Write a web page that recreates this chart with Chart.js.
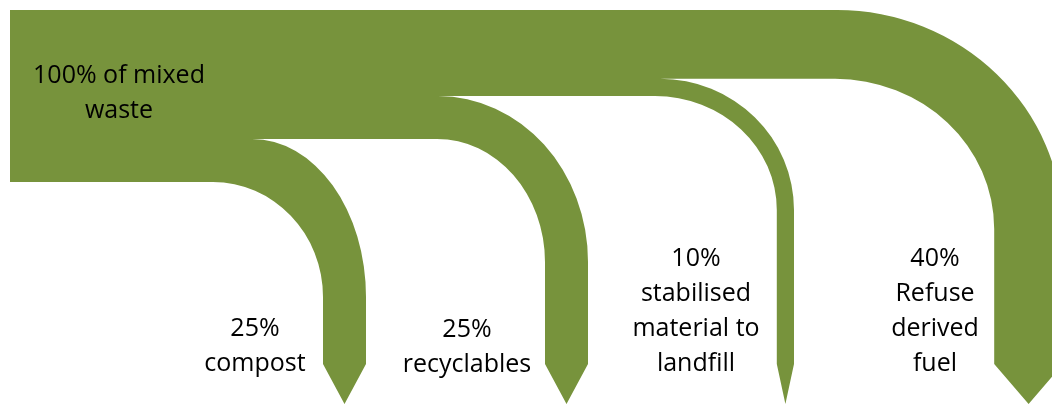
<!DOCTYPE html>
<html>
<head>
<meta charset="utf-8">
<script src="https://cdn.jsdelivr.net/npm/chart.js@4.4.1/dist/chart.umd.min.js"></script>
<style>
  html, body { margin: 0; padding: 0; background: #fff; }
  #wrap { width: 1052px; height: 405px; position: relative; }
</style>
</head>
<body>
<div id="wrap"><canvas id="flow"></canvas></div>
<script>
// data
const sourceLines = ["100% of mixed", "waste"];
const categories = ["compost", "recyclables", "stabilised material to landfill", "Refuse derived fuel"];
const shares = [25, 25, 10, 40];
const labelLines = [
  ["25%", "compost"],
  ["25%", "recyclables"],
  ["10%", "stabilised", "material to", "landfill"],
  ["40%", "Refuse", "derived", "fuel"],
];

// layout (pixel-like units of the hidden scales)
const GREEN = "#77933c";
const band = { left: 10, top: 10, bottom: 182 };
const unitPerShare = (band.bottom - band.top) / 100;
const elbows = [
  { innerStart: 213, outerStart: 252, turnY: 297, outerX: 366 },
  { innerStart: 437, outerStart: 438, turnY: 262, outerX: 588 },
  { innerStart: 655, outerStart: 660, turnY: 210, outerX: 794 },
  { innerStart: 835, outerStart: 837, turnY: 229, outerX: 1063 },
];
const arrowBase = 364, arrowTip = 404;
const labelPos = [
  { x: 255, last: 371 },
  { x: 467, last: 372 },
  { x: 696, last: 371 },
  { x: 935, last: 371 },
];
const sourcePos = { x: 119, first: 83 };
const lineH = 35;

const flowPlugin = {
  id: "flows",
  beforeDatasetsDraw(chart) {
    const { ctx, scales: { x, y } } = chart;
    const px = (v) => x.getPixelForValue(v);
    const py = (v) => y.getPixelForValue(v);
    ctx.save();
    ctx.fillStyle = GREEN;
    ctx.beginPath();
    let base = band.bottom;
    shares.forEach((s, i) => {
      const w = s * unitPerShare;
      const e = elbows[i];
      const yBot = base;
      const yTop = base - w;
      base = yTop;
      const xOut = e.outerX;
      const xIn = e.outerX - w;
      const xMid = (xOut + xIn) / 2;

      ctx.moveTo(px(band.left), py(yTop));
      ctx.lineTo(px(e.outerStart), py(yTop));
      ctx.ellipse(px(e.outerStart), py(e.turnY), px(xOut) - px(e.outerStart),
        py(e.turnY) - py(yTop), 0, -Math.PI / 2, 0, false);
      ctx.lineTo(px(xOut), py(arrowBase));
      ctx.lineTo(px(xMid), py(arrowTip));
      ctx.lineTo(px(xIn), py(arrowBase));
      ctx.lineTo(px(xIn), py(e.turnY));
      ctx.ellipse(px(e.innerStart), py(e.turnY), px(xIn) - px(e.innerStart),
        py(e.turnY) - py(yBot), 0, 0, -Math.PI / 2, true);
      ctx.lineTo(px(band.left), py(yBot));
      ctx.closePath();
    });
    ctx.fill();
    ctx.restore();
  },
  afterDatasetsDraw(chart) {
    const { ctx, scales: { x, y } } = chart;
    ctx.save();
    ctx.fillStyle = "#000";
    ctx.font = '25px "Open Sans"';
    ctx.textAlign = "center";
    ctx.textBaseline = "alphabetic";
    sourceLines.forEach((t, k) => {
      ctx.fillText(t, x.getPixelForValue(sourcePos.x), y.getPixelForValue(sourcePos.first + k * lineH));
    });
    labelLines.forEach((lines, i) => {
      const p = labelPos[i];
      const first = p.last - (lines.length - 1) * lineH;
      lines.forEach((t, k) => {
        ctx.fillText(t, x.getPixelForValue(p.x), y.getPixelForValue(first + k * lineH));
      });
    });
    ctx.restore();
  },
};

new Chart(document.getElementById("flow"), {
  type: "scatter",
  data: {
    labels: categories,
    datasets: [{ label: "share", data: [], pointRadius: 0 }],
  },
  options: {
    responsive: true,
    maintainAspectRatio: false,
    animation: false,
    layout: { padding: 0 },
    scales: {
      x: { type: "linear", min: 0, max: 1052, display: false },
      y: { type: "linear", min: 0, max: 405, reverse: true, display: false },
    },
    plugins: {
      legend: { display: false },
      tooltip: { enabled: false },
    },
  },
  plugins: [flowPlugin],
});
</script>
</body>
</html>
